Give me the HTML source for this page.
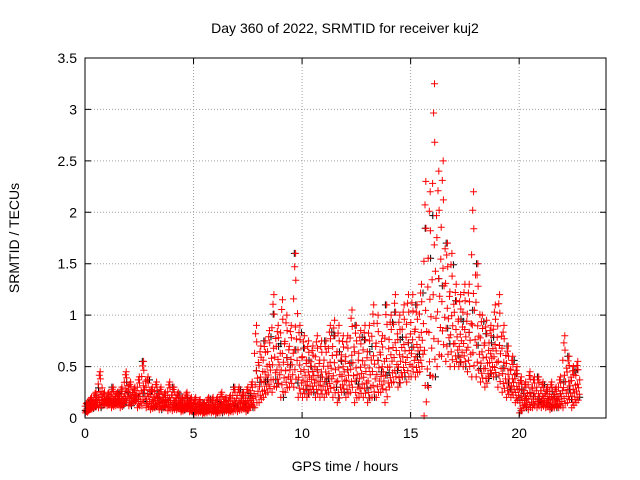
<!DOCTYPE html>
<html><head><meta charset="utf-8"><style>
body{margin:0;background:#fff}
svg{display:block}
text{font-family:"Liberation Sans",sans-serif;font-size:14px;fill:#000}
</style></head><body>
<svg id="c" width="640" height="480">
<rect x="0" y="0" width="640" height="480" fill="#fff"/>
<text x="345" y="33" text-anchor="middle">Day 360 of 2022, SRMTID for receiver kuj2</text>
<text x="345" y="471" text-anchor="middle">GPS time / hours</text>
<text transform="translate(19,238) rotate(-90)" text-anchor="middle">SRMTID / TECUs</text>
<g id="grid"></g><g id="marks"></g><g id="axes"></g>
</svg>
<script>
const xTicks=[0,5,10,15,20];
const yTicks=[0,0.5,1,1.5,2,2.5,3,3.5];
const yTickLabels=["0","0.5","1","1.5","2","2.5","3","3.5"];
const binStart=0, binStep=0.2;
const hiVals=[0.15,0.2,0.25,0.45,0.25, 0.25,0.3,0.25,0.3,0.45, 0.35,0.3,0.4,0.55,0.4, 0.3,0.35,0.3,0.25,0.35, 0.3,0.25,0.2,0.25,0.2, 0.2,0.18,0.15,0.2,0.2, 0.2,0.25,0.2,0.22,0.3, 0.3,0.25,0.3,0.35,0.9, 0.7,0.75,0.85,1.2,0.9, 1.15,1.0,0.9,1.6,0.9, 0.8,0.75,0.7,0.8,0.75, 0.75,0.9,0.95,0.9,0.8, 0.8,1.05,0.9,0.85,0.9, 0.9,1.1,1.0,0.8,1.1, 1.0,1.2,1.0,1.1,1.2, 1.2,1.1,1.3,2.3,2.2, 3.25,2.4,2.5,1.7,1.6, 1.3,1.2,1.3,1.3,2.2, 1.5,1.0,0.95,0.9,1.1, 1.2,0.9,0.7,0.6,0.5, 0.4,0.35,0.45,0.4,0.4, 0.35,0.3,0.35,0.3,0.4, 0.8,0.6,0.5,0.55];
const loVals=[0.05,0.08,0.1,0.1,0.12, 0.12,0.1,0.12,0.1,0.15, 0.12,0.15,0.1,0.12,0.1, 0.08,0.1,0.08,0.1,0.07, 0.07,0.08,0.06,0.08,0.06, 0.04,0.05,0.04,0.05,0.05, 0.04,0.05,0.06,0.05,0.06, 0.06,0.08,0.06,0.1,0.1, 0.15,0.2,0.25,0.25,0.3, 0.2,0.25,0.3,0.3,0.2, 0.2,0.2,0.25,0.2,0.2, 0.2,0.25,0.2,0.15,0.25, 0.2,0.25,0.15,0.2,0.2, 0.15,0.2,0.2,0.25,0.15, 0.3,0.35,0.3,0.4,0.35, 0.4,0.4,0.45,0.02,0.3, 0.4,0.5,0.6,0.55,0.5, 0.5,0.5,0.5,0.45,0.4, 0.4,0.35,0.3,0.4,0.4, 0.3,0.25,0.2,0.2,0.15, 0.05,0.1,0.08,0.1,0.1, 0.1,0.1,0.08,0.1,0.1, 0.1,0.15,0.1,0.15];
const X0=85,X1=606,Y0=418,Y1=58;
const xs=v=>X0+(v-0)/(24-0)*(X1-X0);
const ys=v=>Y0-(v-0)/(3.5-0)*(Y0-Y1);
const NS='http://www.w3.org/2000/svg';
const grid=document.getElementById('grid'),axes=document.getElementById('axes'),marks=document.getElementById('marks');
function mk(tag,attrs,parent){const e=document.createElementNS(NS,tag);for(const k in attrs)e.setAttribute(k,attrs[k]);parent.appendChild(e);return e;}
xTicks.forEach((t,i)=>{const x=xs(t);
 if(t>0){const g=mk('line',{x1:x,x2:x,y1:Y1,y2:Y0,stroke:'#a0a0a0','stroke-dasharray':'1,2'},grid);
 
 }
 const tk=mk('path',{d:`M${x},${Y0}v-6M${x},${Y1}v6`,stroke:'#000'},axes);
 
 
 const l=mk('text',{x:x,y:Y0+20,'text-anchor':'middle'},axes);l.textContent=String(t);
 
 });
yTicks.forEach((t,i)=>{const y=ys(t);
 if(t>0&&t<3.5){const g=mk('line',{x1:X0,x2:X1,y1:y,y2:y,stroke:'#a0a0a0','stroke-dasharray':'1,2'},grid);
 
 }
 const tk=mk('path',{d:`M${X0},${y}h6M${X1},${y}h-6`,stroke:'#000'},axes);
 
 
 const l=mk('text',{x:X0-8,y:y+5,'text-anchor':'end'},axes);l.textContent=yTickLabels[i];
 
 });
const fr=mk('rect',{x:X0,y:Y1,width:X1-X0,height:Y0-Y1,fill:'none',stroke:'#000'},axes);


const fracs=[0,0.06,0.13,0.2,0.28,0.36,0.45,0.55,0.66,0.8,0.9,1];
const dxs=[0.02,0.12,0.07,0.17,0.04,0.14,0.09,0.19,0.01,0.11,0.06,0.1];
let dBlack='',dRed='';
hiVals.forEach((hi,i)=>{const lo=loVals[i];const t0=binStart+i*binStep;
 fracs.forEach((f,j)=>{const v=lo+(hi-lo)*f;const x=xs(t0+dxs[j]);const y=ys(v);
  const s=`M${(x-3.5).toFixed(1)},${y.toFixed(1)}h7M${x.toFixed(1)},${(y-3.5).toFixed(1)}v7`;
  if((i+j)%7===3){const xb=xs(t0+dxs[(j+5)%12]);dBlack+=`M${(xb-3.5).toFixed(1)},${y.toFixed(1)}h7M${xb.toFixed(1)},${(y-3.5).toFixed(1)}v7`;}
  dRed+=s;});});
const pb=mk('path',{d:dBlack,stroke:'#000',fill:'none','stroke-width':1},marks);


const pr=mk('path',{d:dRed,stroke:'#ff0000',fill:'none','stroke-width':1},marks);


</script>
</body></html>
